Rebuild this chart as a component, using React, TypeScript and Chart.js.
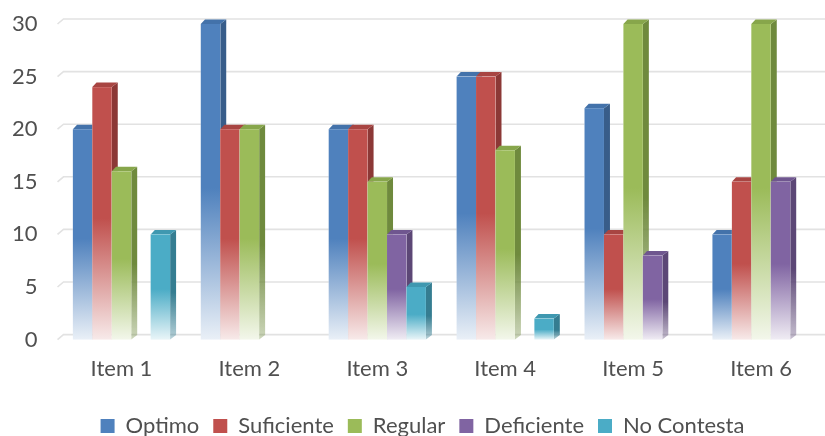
import React, { useEffect, useRef } from 'react';
import { Chart, registerables } from 'chart.js';

Chart.register(...registerables);

const categories = ['Item 1', 'Item 2', 'Item 3', 'Item 4', 'Item 5', 'Item 6'];
const seriesNames = ['Optimo', 'Suficiente', 'Regular', 'Deficiente', 'No Contesta'];
const optimo = [20, 30, 20, 25, 22, 10];
const suficiente = [24, 20, 20, 25, 10, 15];
const regular = [16, 20, 15, 18, 30, 30];
const deficiente = [0, 0, 10, 0, 8, 15];
const noContesta = [10, 0, 5, 2, 0, 0];
const yTicks = [0, 5, 10, 15, 20, 25, 30];

const frontColors = ['#4f81bd', '#c0504d', '#9bbb59', '#8064a2', '#4bacc6'];
const sideColors = ['#385d8a', '#8c3836', '#6f8a3d', '#5c4776', '#357d91'];
const topColors = ['#4372aa', '#a84542', '#87a64b', '#6f568f', '#3f98b0'];

const FONT = 'Lato, "Noto Sans", sans-serif';
const TEXT = '#505050';
const DX = 6;
const DY = 4.5;

function rgba(hex: string, a: number) {
  const n = parseInt(hex.slice(1), 16);
  return `rgba(${(n >> 16) & 255},${(n >> 8) & 255},${n & 255},${a})`;
}

const legendShift = {
  id: 'legendShift',
  afterLayout(chart: any) {
    if (chart.legend) {
      chart.legend.left += 12;
      chart.legend.right += 12;
    }
  },
};

const bars3d = {
  id: 'bars3d',
  beforeDatasetsDraw(chart: any) {
    const ctx = chart.ctx as CanvasRenderingContext2D;
    const ys = chart.scales.y;
    const area = chart.chartArea;
    ctx.save();
    ctx.strokeStyle = '#e2e2e2';
    ctx.lineWidth = 1.6;
    for (const v of yTicks) {
      const y = ys.getPixelForValue(v);
      ctx.beginPath();
      ctx.moveTo(area.left, y);
      ctx.lineTo(area.left + DX, y - DY - 0.5);
      ctx.lineTo(chart.width, y - DY - 0.5);
      ctx.stroke();
    }
    ctx.restore();

    chart.data.datasets.forEach((ds: any, d: number) => {
      const meta = chart.getDatasetMeta(d);
      meta.data.forEach((el: any, i: number) => {
        const v = ds.data[i];
        if (!v) return;
        const { x, y, base, width } = el.getProps(['x', 'y', 'base', 'width'], true);
        const l = x - width / 2;
        const r = x + width / 2;
        ctx.save();
        const gs = ctx.createLinearGradient(0, y, 0, base);
        gs.addColorStop(0, sideColors[d]);
        gs.addColorStop(0.55, sideColors[d]);
        gs.addColorStop(1, rgba(sideColors[d], 0.35));
        ctx.fillStyle = gs;
        ctx.beginPath();
        ctx.moveTo(r, y);
        ctx.lineTo(r + DX, y - DY);
        ctx.lineTo(r + DX, base - DY);
        ctx.lineTo(r, base);
        ctx.closePath();
        ctx.fill();
        ctx.fillStyle = topColors[d];
        ctx.beginPath();
        ctx.moveTo(l, y);
        ctx.lineTo(l + DX * 0.7, y - DY);
        ctx.lineTo(r + DX, y - DY);
        ctx.lineTo(r, y);
        ctx.closePath();
        ctx.fill();
        ctx.fillStyle = '#ffffff';
        ctx.fillRect(l, y, r - l, base - y);
        const gf = ctx.createLinearGradient(0, y, 0, base);
        gf.addColorStop(0, frontColors[d]);
        gf.addColorStop(0.52, frontColors[d]);
        gf.addColorStop(1, rgba(frontColors[d], 0.12));
        ctx.fillStyle = gf;
        ctx.fillRect(l, y, r - l, base - y);
        ctx.restore();
      });
    });
    return false;
  },
};

export default function App() {
  const ref = useRef<HTMLCanvasElement>(null);
  useEffect(() => {
    document.body.style.margin = '0';
    const values = [optimo, suficiente, regular, deficiente, noContesta];
    const chart = new Chart(ref.current!, {
      type: 'bar',
      data: {
        labels: categories,
        datasets: seriesNames.map((name, d) => ({
          label: name,
          data: values[d],
          backgroundColor: frontColors[d],
          borderWidth: 0,
          barPercentage: 1,
          categoryPercentage: 0.76,
        })),
      },
      options: {
        responsive: false,
        animation: false,
        layout: { padding: { left: -8, right: -4, top: 24, bottom: -11 } },
        plugins: {
          tooltip: { enabled: false },
          legend: {
            position: 'bottom',
            labels: {
              boxWidth: 14,
              boxHeight: 14,
              padding: 14,
              color: TEXT,
              font: { family: FONT, size: 22 },
            },
          },
        },
        scales: {
          x: {
            grid: { display: false, drawTicks: false },
            border: { display: false },
            ticks: { color: TEXT, font: { family: FONT, size: 22 }, padding: 16 },
            afterFit: (s: any) => {
              s.height += 3;
            },
          },
          y: {
            min: 0,
            max: 30,
            grid: { display: false, drawTicks: false },
            border: { display: false },
            ticks: { stepSize: 5, color: TEXT, font: { family: FONT, size: 22 }, padding: 20 },
            afterFit: (s: any) => {
              s.paddingTop = 13;
              s.paddingBottom = 13;
            },
          },
        },
      },
      plugins: [bars3d, legendShift],
    });
    return () => chart.destroy();
  }, []);
  return (
    <div style={{ width: 825, height: 436 }}>
      <canvas ref={ref} width={825} height={436} />
    </div>
  );
}
